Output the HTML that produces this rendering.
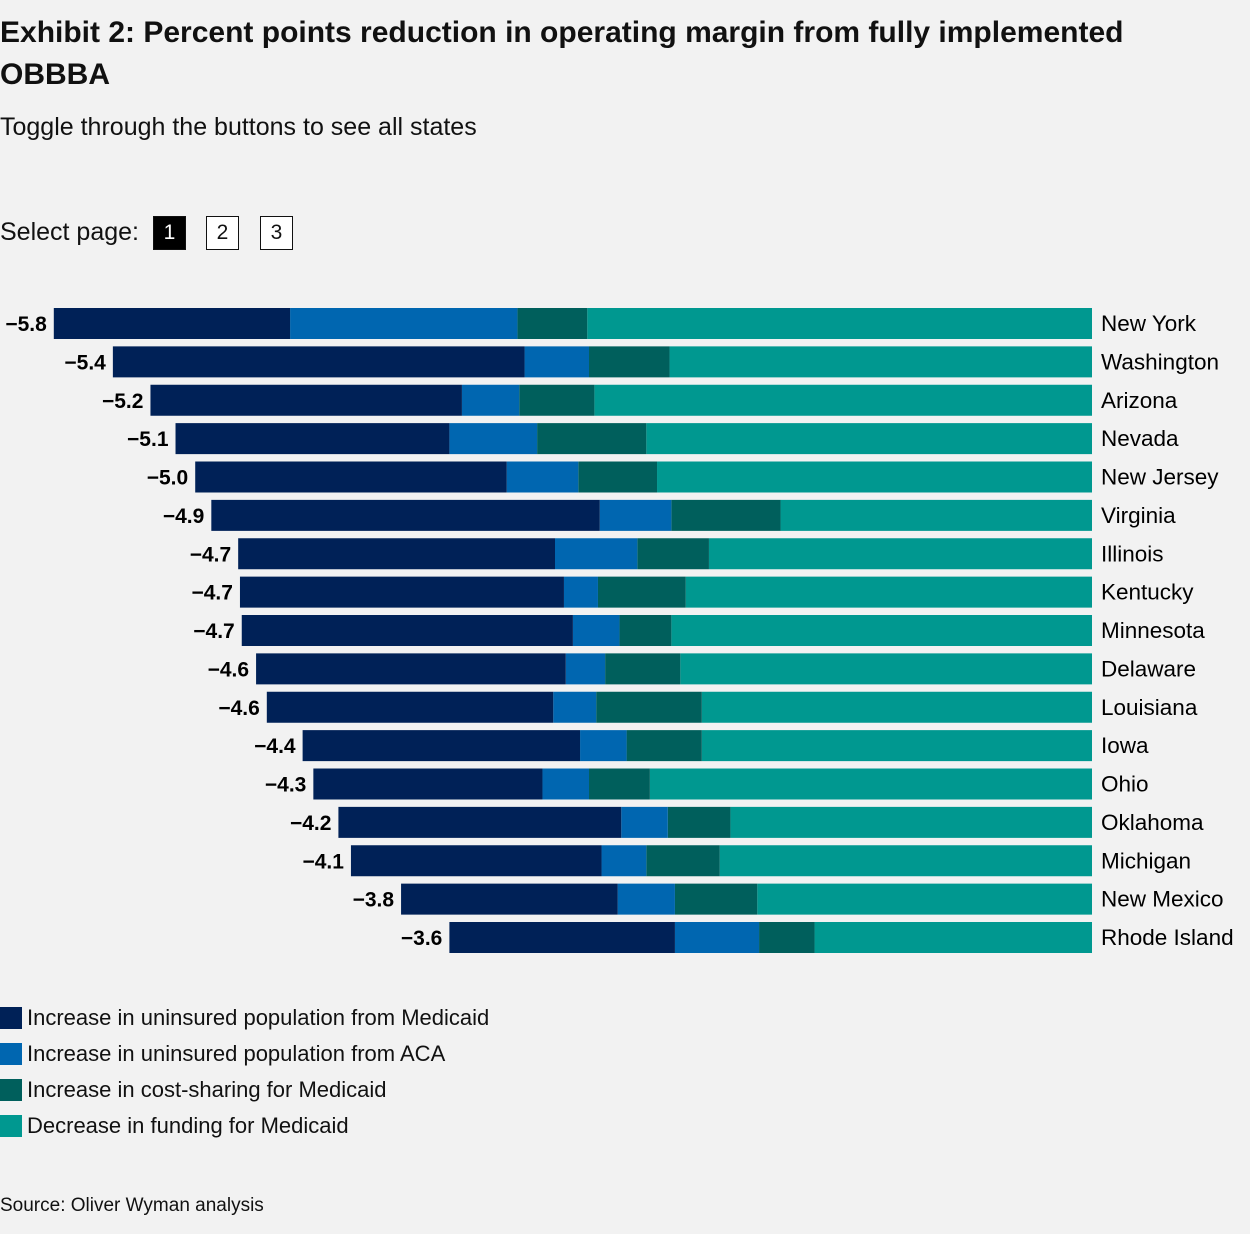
<!DOCTYPE html>
<html><head><meta charset="utf-8"><style>
body{margin:0;background:#f2f2f2;font-family:"Liberation Sans",sans-serif;color:#111;}
#wrap{position:relative;width:1250px;height:1234px;overflow:hidden;}
h1{position:absolute;left:0;top:12px;margin:0;font-size:30px;line-height:42px;font-weight:bold;width:1250px;letter-spacing:0px}
.sub{position:absolute;left:0;top:113px;font-size:25px}
.sel{position:absolute;left:0;top:218px;font-size:25px}
.pb{position:absolute;top:216px;width:33px;height:34px;border:1px solid #111;box-sizing:border-box;font-size:21px;text-align:center;line-height:32px;background:#fff}
.leg{position:absolute;left:0;font-size:22px;}
.leg span{display:inline-block;width:22px;height:22px;vertical-align:-4px;margin-right:5px}
.src{position:absolute;left:0;top:1195px;font-size:19px}
</style></head><body><div id="wrap">
<h1>Exhibit 2: Percent points reduction in operating margin from fully implemented<br>OBBBA</h1>
<div class="sub">Toggle through the buttons to see all states</div>
<div class="sel">Select page:</div>
<div class="pb" style="left:153px;background:#000;color:#fff">1</div>
<div class="pb" style="left:206px">2</div>
<div class="pb" style="left:260px">3</div>
<svg id="chart" width="1250" height="980" style="position:absolute;left:0;top:0"></svg>
<div class="leg" style="top:1005px"><span style="background:#002157"></span>Increase in uninsured population from Medicaid</div>
<div class="leg" style="top:1041px"><span style="background:#0066b0"></span>Increase in uninsured population from ACA</div>
<div class="leg" style="top:1077px"><span style="background:#005f5c"></span>Increase in cost-sharing for Medicaid</div>
<div class="leg" style="top:1113px"><span style="background:#009890"></span>Decrease in funding for Medicaid</div>
<div class="src">Source: Oliver Wyman analysis</div>
</div>
<script>
const states=["New York","Washington","Arizona","Nevada","New Jersey","Virginia","Illinois","Kentucky","Minnesota","Delaware","Louisiana","Iowa","Ohio","Oklahoma","Michigan","New Mexico","Rhode Island"];
const totals=["−5.8","−5.4","−5.2","−5.1","−5.0","−4.9","−4.7","−4.7","−4.7","−4.6","−4.6","−4.4","−4.3","−4.2","−4.1","−3.8","−3.6"];
const funding=[2.82,2.36,2.78,2.49,2.43,1.74,2.14,2.27,2.35,2.30,2.18,2.18,2.47,2.02,2.08,1.87,1.55];
const costSharing=[0.39,0.45,0.42,0.61,0.44,0.61,0.40,0.49,0.29,0.42,0.59,0.42,0.34,0.35,0.41,0.46,0.31];
const aca=[1.27,0.36,0.32,0.49,0.40,0.40,0.46,0.19,0.26,0.22,0.24,0.26,0.26,0.26,0.25,0.32,0.47];
const medicaid=[1.32,2.30,1.74,1.53,1.74,2.17,1.77,1.81,1.85,1.73,1.60,1.55,1.28,1.58,1.40,1.21,1.26];
const series=[[funding,"#009890","funding"],[costSharing,"#005f5c","cost-sharing"],[aca,"#0066b0","aca"],[medicaid,"#002157","medicaid"]];
const svg=document.getElementById('chart');const NS="http://www.w3.org/2000/svg";
const x0=1092,scale=179;const xs=v=>x0-v*scale;
const yTop=308,pitch=38.375,bh=31;const ys=i=>yTop+i*pitch;
states.forEach((s,i)=>{
 let acc=0;
 series.forEach(([arr,col,nm])=>{
  const r=document.createElementNS(NS,'rect');
  r.setAttribute('x',xs(acc+arr[i]));r.setAttribute('y',ys(i));
  r.setAttribute('width',arr[i]*scale);r.setAttribute('height',bh);r.setAttribute('fill',col);
  
  
  svg.appendChild(r);acc+=arr[i];
 });
 const t=document.createElementNS(NS,'text');
 t.setAttribute('x',xs(acc)-7);t.setAttribute('y',ys(i)+23);t.setAttribute('text-anchor','end');
 t.setAttribute('font-size','21');t.setAttribute('font-weight','bold');t.setAttribute('font-family','Liberation Sans, sans-serif');
 t.textContent=totals[i];
 
 
 svg.appendChild(t);
 const l=document.createElementNS(NS,'text');
 l.setAttribute('x',1101);l.setAttribute('y',ys(i)+23);l.setAttribute('font-size','22.5');l.setAttribute('font-family','Liberation Sans, sans-serif');
 l.textContent=s;
 
 
 svg.appendChild(l);
});
</script></body></html>
